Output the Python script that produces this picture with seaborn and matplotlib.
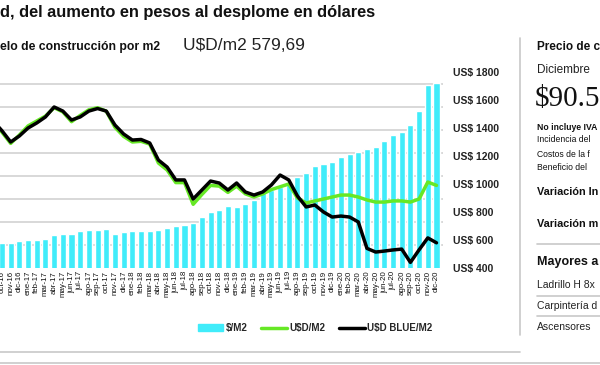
import numpy as np
import pandas as pd
import matplotlib
matplotlib.use("Agg")
import matplotlib.pyplot as plt
import seaborn as sns
from matplotlib.lines import Line2D
from matplotlib.patches import Patch

# Data (sep-16 is only partly visible at the left edge)
months = ["sep-16", "oct-16", "nov-16", "dic-16",
          "ene-17", "feb-17", "mar-17", "abr-17", "may-17", "jun-17",
          "jul-17", "ago-17", "sep-17", "oct-17", "nov-17", "dic-17",
          "ene-18", "feb-18", "mar-18", "abr-18", "may-18", "jun-18",
          "jul-18", "ago-18", "sep-18", "oct-18", "nov-18", "dic-18",
          "ene-19", "feb-19", "mar-19", "abr-19", "may-19", "jun-19",
          "jul-19", "ago-19", "sep-19", "oct-19", "nov-19", "dic-19",
          "ene-20", "feb-20", "mar-20", "abr-20", "may-20", "jun-20",
          "jul-20", "ago-20", "sep-20", "oct-20", "nov-20", "dic-20"]

pesos_m2 = [20500, 20700, 20700, 21900,
            22200, 22200, 22500, 24200, 24650, 24650,
            26200, 26400, 26650, 26800, 24900, 25650,
            26100, 26200, 26200, 26500, 27400, 28250,
            28550, 29700, 32000, 34500, 35200, 36950,
            36400, 37800, 39500, 42600, 43900, 45200,
            47400, 49700, 51200, 54350, 55200, 56200,
            58100, 59550, 60550, 61600, 62500, 65350,
            67800, 69150, 72200, 78400, 89450, 90565]

usd_m2 = [1440, 1370, 1290, 1350,
          1415, 1450, 1485, 1545, 1515, 1445,
          1490, 1530, 1545, 1520, 1405, 1340,
          1300, 1305, 1285, 1150, 1100, 1010,
          1010, 855, 925, 990, 985, 940,
          985, 930, 907, 929, 960, 980,
          1000, 900, 864, 879, 893, 907,
          921, 921, 907, 886, 871, 871,
          879, 879, 871, 893, 1014, 990]

blue_m2 = [1450, 1380, 1300, 1343,
           1400, 1436, 1479, 1550, 1521, 1457,
           1479, 1521, 1539, 1521, 1421, 1357,
           1314, 1318, 1293, 1171, 1121, 1029,
           1029, 893, 957, 1021, 1007, 957,
           1007, 943, 921, 943, 993, 1064,
           1029, 914, 836, 850, 800, 764,
           771, 764, 729, 540, 514, 521,
           529, 535, 440, 530, 615, 580]

usd_ticks = [400, 600, 800, 1000, 1200, 1400, 1600, 1800]
peso_grid = [20000, 30000, 40000, 50000, 60000, 70000, 80000, 90000]

sns.set_theme(style="white")
plt.rcParams['font.family'] = ['Liberation Sans', 'DejaVu Sans']

CYAN = "#40ecfa"
GREEN = "#66e825"
GRAY = "#c8c8c8"

df = pd.DataFrame({"mes": months, "pesos": pesos_m2,
                   "usd": usd_m2, "blue": blue_m2})
df["pos"] = np.arange(len(df))


def fx(px):
    return px / 600


def fy(py):
    return 1 - py / 365


fig = plt.figure(figsize=(6, 3.65), dpi=100)
ax = fig.add_axes([0, fy(268), fx(443), (268 - 72) / 365])

# bars: pesos per m2 (own hidden scale, gridlines every 10000)
sns.barplot(data=df, x="pos", y="pesos", native_scale=True, color=CYAN,
            saturation=1, width=0.7, ax=ax)
ax.set_ylim(10000, 95217)
ax.set_yticks(peso_grid)
ax.set_yticklabels([])
ax.yaxis.grid(True, color="#d6d6d6", lw=1.3)
ax.xaxis.grid(False)
ax.set_axisbelow(True)
ax.set_xticks(df["pos"], months)
ax.set_xlim(0.77, 51.75)
ax.tick_params(axis="x", rotation=90, labelsize=5.7, length=0, pad=2,
               labelcolor="#111111")
ax.tick_params(axis="y", length=0)
ax.set_xlabel("")
ax.set_ylabel("")
sns.despine(ax=ax, left=True, bottom=True)

# lines: dollars per m2 on the right scale
ax2 = ax.twinx()
sns.lineplot(data=df, x="pos", y="usd", color=GREEN, lw=2.5, ax=ax2)
sns.lineplot(data=df, x="pos", y="blue", color="black", lw=2.5, ax=ax2)
ax2.set_ylim(400, 1800)
ax2.set_yticks(usd_ticks, [f"US$ {v}" for v in usd_ticks])
ax2.tick_params(axis="y", length=0, pad=7, labelsize=7.5, labelcolor="#222222")
for lab in ax2.get_yticklabels():
    lab.set_fontweight("bold")
ax2.set_xlabel("")
ax2.set_ylabel("")
ax2.grid(False)
for s in ax2.spines.values():
    s.set_visible(False)

# titles
fig.text(0, fy(12), "d, del aumento en pesos al desplome en dólares",
         fontsize=11.8, fontweight="bold", va="center", color="#111111")
fig.text(0, fy(47), "elo de construcción por m2", fontsize=8.8,
         fontweight="bold", va="center", color="#111111")
fig.text(fx(183), fy(46), "U$D/m2 579,69", fontsize=12.5, va="center",
         color="#222222")

# legend
handles = [Patch(color=CYAN), Line2D([], [], color=GREEN, lw=2.5),
           Line2D([], [], color="black", lw=2.5)]
leg = fig.legend(handles, ["$/M2", "U$D/M2", "U$D BLUE/M2"], ncol=3,
                 loc="center left", bbox_to_anchor=(fx(189), fy(328)),
                 frameon=False, fontsize=7, handlelength=2.6,
                 handletextpad=0.3, columnspacing=1.4)
for t in leg.get_texts():
    t.set_fontweight("bold")

# right panel (cut at the edge in the reference)
fig.text(fx(537), fy(47), "Precio de c", fontsize=8.5, fontweight="bold",
         va="center", color="#111111")
fig.text(fx(537), fy(70), "Diciembre", fontsize=8.5, va="center",
         color="#222222")
fig.text(fx(535), fy(99), "$90.5", fontsize=21, va="center",
         family=["Liberation Serif", "DejaVu Serif"], color="#111111")
small = [("No incluye IVA", "bold", 127), ("Incidencia del", "normal", 140),
         ("Costos de la f", "normal", 154), ("Beneficio del", "normal", 167)]
for txt, w, y in small:
    fig.text(fx(537), fy(y), txt, fontsize=6.2, fontweight=w, va="center",
             color="#111111")
fig.text(fx(537), fy(192), "Variación In", fontsize=7.8, fontweight="bold",
         va="center", color="#111111")
fig.text(fx(537), fy(224), "Variación m", fontsize=7.8, fontweight="bold",
         va="center", color="#111111")
fig.text(fx(537), fy(262), "Mayores a", fontsize=9, fontweight="bold",
         va="center", color="#111111")
fig.text(fx(537), fy(285), "Ladrillo H 8x", fontsize=7.5, va="center",
         color="#222222")
fig.text(fx(537), fy(306), "Carpintería d", fontsize=7.5, va="center",
         color="#222222")
fig.text(fx(537), fy(327), "Ascensores", fontsize=7.5, va="center",
         color="#222222")

# separators
seps = [([fx(520), fx(520)], [fy(38), fy(335)]),
        ([fx(537), 1], [fy(244), fy(244)]),
        ([fx(537), 1], [fy(296), fy(296)]),
        ([fx(537), 1], [fy(316), fy(316)]),
        ([0, fx(520)], [fy(352), fy(352)]),
        ([0, 1], [fy(363), fy(363)])]
for xs, ys in seps:
    fig.add_artist(Line2D(xs, ys, color=GRAY, lw=1.2,
                          transform=fig.transFigure))

fig.savefig("out.png", dpi=100)
